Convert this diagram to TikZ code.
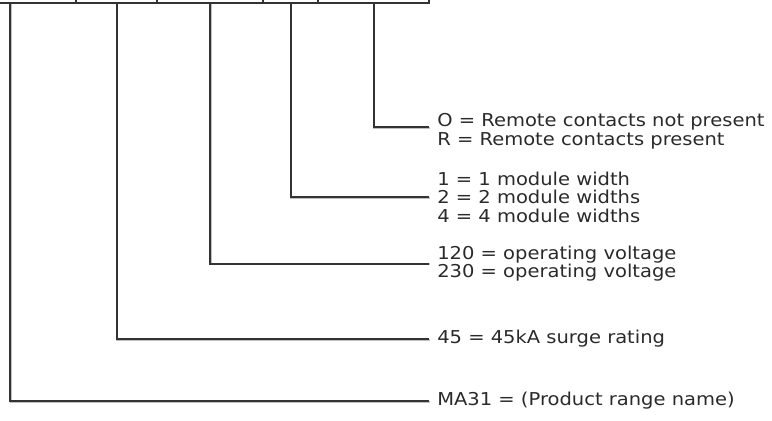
\documentclass[tikz,border=0pt]{standalone}
\usepackage{fontspec}
\setmainfont{DejaVu Sans}[FakeStretch=1.1]
\usetikzlibrary{positioning}
\definecolor{codeline}{HTML}{333333}
\definecolor{codetext}{HTML}{2A2A2A}
\tikzset{
  digitbox/.style={draw=codeline, line width=1.5pt, minimum height=30pt,
    inner sep=0pt, outer sep=0pt, anchor=south west},
  lead/.style={draw=codeline, line width=1.5pt,
    preaction={draw=black!25, line width=1.5pt,
      transform canvas={shift={(0.5pt,-0.6pt)}}}},
  option/.style={anchor=west, align=left, inner xsep=6pt, inner ysep=0pt,
    text=codetext, font=\fontsize{13.3}{13.9}\selectfont}
}
\begin{document}
\begin{tikzpicture}[x=0.75pt, y=-0.75pt]
  \path[use as bounding box, clip] (0,0) rectangle (772,421);

  % Code boxes along the top
  \node[digitbox, minimum width=99pt] (b1) at (-56,3) {};
  \node[digitbox, minimum width=60.75pt, right=0pt of b1] (b2) {};
  \node[digitbox, minimum width=79.5pt, right=0pt of b2] (b3) {};
  \node[digitbox, minimum width=41.25pt, right=0pt of b3] (b4) {};
  \node[digitbox, minimum width=83.25pt, right=0pt of b4] (b5) {};

  % Meaning of each part
  \node[option] (remote) at (429,131) {O = Remote contacts not present\\R = Remote contacts present};
  \node[option] (width) at (429,197) {1 = 1 module width\\2 = 2 module widths\\4 = 4 module widths};
  \node[option] (voltage) at (429,263.5) {120 = operating voltage\\230 = operating voltage};
  \node[option] (surge) at (429,339) {45 = 45kA surge rating};
  \node[option] (range) at (429,401) {MA31 = (Product range name)};

  % Leads from the boxes
  \draw[lead] (b5.south) |- ([yshift=3pt]remote.west);
  \draw[lead] (b4.south) |- (width.west);
  \draw[lead] (b3.south) |- (voltage.west);
  \draw[lead] (b2.south) |- (surge.west);
  \draw[lead] (b1.south) |- (range.west);
\end{tikzpicture}
\end{document}
